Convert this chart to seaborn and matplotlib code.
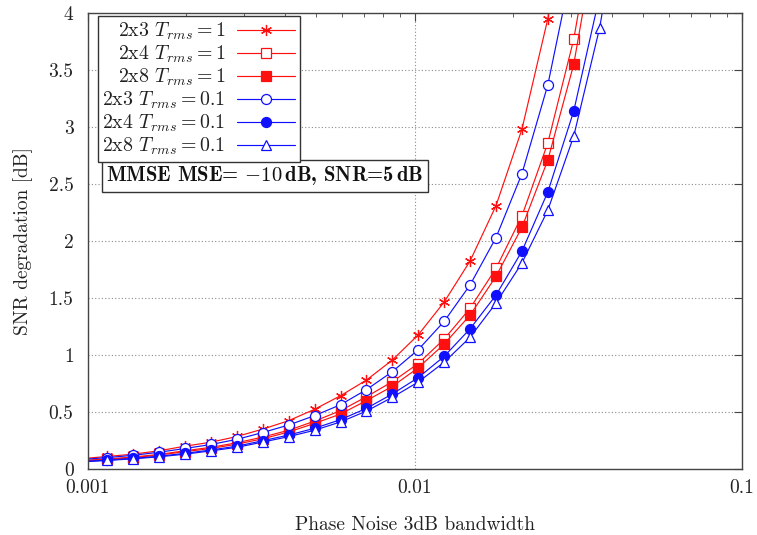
import matplotlib
matplotlib.use("Agg")
import matplotlib.pyplot as plt
import pandas as pd
import seaborn as sns
from matplotlib.ticker import FixedLocator, LogLocator, NullFormatter

# Phase-noise 3 dB bandwidth sample points (first point carries no marker)
bandwidth = [0.001, 0.00115, 0.00138, 0.001656, 0.001987, 0.002385, 0.002862,
             0.003434, 0.004121, 0.004945, 0.005934, 0.007121, 0.008545,
             0.010254, 0.012305, 0.014766, 0.017719, 0.021263, 0.025515,
             0.030618, 0.036742, 0.04409]

# SNR degradation [dB] for each antenna configuration / delay spread
deg_2x3_t1 = [0.095, 0.11, 0.13, 0.16, 0.20, 0.235, 0.285, 0.35, 0.424, 0.524,
              0.643, 0.78, 0.956, 1.177, 1.465, 1.825, 2.31, 2.98, 3.95, 5.35]
deg_2x4_t1 = [0.077, 0.088, 0.105, 0.128, 0.16, 0.19, 0.23, 0.28, 0.34, 0.42,
              0.512, 0.634, 0.766, 0.925, 1.14, 1.41, 1.76, 2.22, 2.86, 3.77,
              5.07]
deg_2x8_t1 = [0.073, 0.084, 0.10, 0.122, 0.152, 0.18, 0.218, 0.265, 0.325,
              0.40, 0.482, 0.600, 0.725, 0.888, 1.096, 1.35, 1.69, 2.12, 2.71,
              3.55, 4.85]
deg_2x3_t01 = [0.087, 0.10, 0.12, 0.147, 0.18, 0.215, 0.26, 0.32, 0.386,
               0.468, 0.564, 0.696, 0.854, 1.047, 1.295, 1.615, 2.03, 2.59,
               3.37, 4.47]
deg_2x4_t01 = [0.068, 0.078, 0.093, 0.112, 0.137, 0.167, 0.200, 0.248, 0.298,
               0.357, 0.433, 0.532, 0.658, 0.802, 0.988, 1.23, 1.525, 1.91,
               2.43, 3.14, 4.15]
deg_2x8_t01 = [0.065, 0.075, 0.089, 0.107, 0.13, 0.159, 0.19, 0.236, 0.284,
               0.34, 0.413, 0.508, 0.629, 0.763, 0.937, 1.155, 1.456, 1.807,
               2.27, 2.92, 3.87, 5.2]

labels = [r"2x3 $T_{rms}=1$", r"2x4 $T_{rms}=1$", r"2x8 $T_{rms}=1$",
          r"2x3 $T_{rms}=0.1$", r"2x4 $T_{rms}=0.1$", r"2x8 $T_{rms}=0.1$"]
series = [deg_2x3_t1, deg_2x4_t1, deg_2x8_t1, deg_2x3_t01, deg_2x4_t01, deg_2x8_t01]

x_ticks = [0.001, 0.01, 0.1]
x_ticklabels = ["0.001", "0.01", "0.1"]
y_ticks = [0, 0.5, 1, 1.5, 2, 2.5, 3, 3.5, 4]
y_ticklabels = ["0", "0.5", "1", "1.5", "2", "2.5", "3", "3.5", "4"]

RED = "#ff1010"
BLUE = "#1010ff"
styles = [
    dict(color=RED, marker=(6, 2, 0), markersize=8, markerfacecolor=RED),
    dict(color=RED, marker="s", markersize=6.5, markerfacecolor="white"),
    dict(color=RED, marker="s", markersize=6.5, markerfacecolor=RED),
    dict(color=BLUE, marker="o", markersize=7.2, markerfacecolor="white"),
    dict(color=BLUE, marker="o", markersize=7.2, markerfacecolor=BLUE),
    dict(color=BLUE, marker="^", markersize=7, markerfacecolor="white"),
]

sns.set_theme(style="white")
plt.rcParams.update({
    "font.family": ["cmr10"],
    "mathtext.fontset": "cm",
    "axes.formatter.use_mathtext": True,
    "axes.edgecolor": "#444444",
    "axes.linewidth": 1.0,
})

fig = plt.figure(figsize=(7.57, 5.35), dpi=100)
ax = fig.add_axes([0.1156, 0.1234, 0.8645, 0.8523])

for values, label, st in zip(series, labels, styles):
    df = pd.DataFrame({"bw": bandwidth[:len(values)], "deg": values})
    sns.lineplot(data=df, x="bw", y="deg", ax=ax, sort=False, errorbar=None,
                 color=st["color"], linewidth=0.85, label=label,
                 marker=st["marker"], markersize=st["markersize"],
                 markerfacecolor=st["markerfacecolor"],
                 markeredgecolor=st["color"], markeredgewidth=0.9,
                 markevery=slice(1, None), legend=False)

ax.set_xscale("log")
ax.set_xlim(0.001, 0.1)
ax.set_ylim(0, 4)
ax.xaxis.set_major_locator(FixedLocator(x_ticks))
ax.set_xticklabels(x_ticklabels)
ax.xaxis.set_minor_locator(LogLocator(base=10, subs=range(2, 10)))
ax.xaxis.set_minor_formatter(NullFormatter())
ax.set_yticks(y_ticks)
ax.set_yticklabels(y_ticklabels)

ax.tick_params(which="both", direction="in", top=True, right=True,
               colors="#444444", labelcolor="#222222", labelsize=14)
ax.tick_params(which="major", length=6, width=0.8, pad=7)
ax.tick_params(axis="y", which="major", pad=10)
ax.tick_params(which="minor", length=3, width=0.6)
ax.grid(True, which="major", color="#8a8a8a", linestyle=(0, (1, 2)), linewidth=0.8)

ax.set_xlabel("Phase Noise 3dB bandwidth", fontsize=14, color="#222222", labelpad=14)
ax.set_ylabel("SNR degradation [dB]", fontsize=14, color="#222222", labelpad=11)

handles = ax.get_lines()[:len(labels)]
leg = ax.legend(handles=handles, labels=labels, loc="upper left",
                bbox_to_anchor=(0.0153, 0.9934), borderaxespad=0,
                markerfirst=False, frameon=True, fancybox=False,
                edgecolor="#333333", framealpha=1, fontsize=14.3,
                handlelength=2.9, handletextpad=0.6, labelspacing=0.08,
                borderpad=0.25)
leg.get_frame().set_linewidth(1.0)
for t in leg.get_texts():
    t.set_color("#222222")

ax.text(0.029, 0.668, r"MMSE MSE= $-10\,$dB, SNR=5$\,$dB", transform=ax.transAxes,
        fontfamily="cmb10", fontsize=14.9, va="top", ha="left", color="#111111",
        bbox=dict(boxstyle="square,pad=0.2", fc="white", ec="#333333", lw=1.0),
        zorder=5)

fig.savefig("out.png", dpi=100)
